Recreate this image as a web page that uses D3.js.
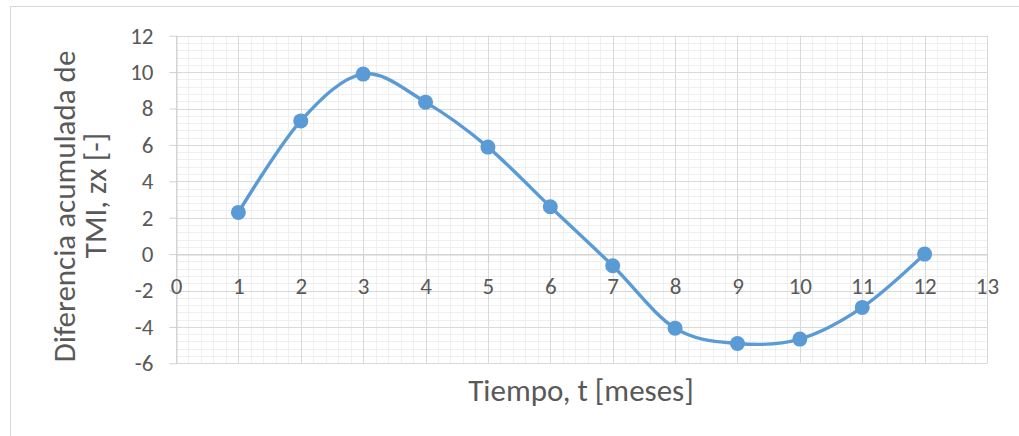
<!DOCTYPE html>
<html>
<head>
<meta charset="utf-8">
<script src="https://cdn.jsdelivr.net/npm/d3@7"></script>
<style>
  body { margin: 0; background: #fff; }
  svg text { font-family: Carlito, Lato, "Liberation Sans", sans-serif; }
</style>
</head>
<body>
<svg id="chart" width="1019" height="436"></svg>
<script>
// months and accumulated TMI difference
const months = [1, 2, 3, 4, 5, 6, 7, 8, 9, 10, 11, 12];
const zx = [2.29, 7.32, 9.89, 8.35, 5.88, 2.6, -0.64, -4.07, -4.91, -4.67, -2.93, 0.0];

const xTicks = [0, 1, 2, 3, 4, 5, 6, 7, 8, 9, 10, 11, 12, 13];
const yTicks = [-6, -4, -2, 0, 2, 4, 6, 8, 10, 12];

const xTitle = "Tiempo, t [meses]";
const yTitle = ["Diferencia acumulada de", "TMI, zx [-]"];

const svg = d3.select("#chart");

//frame of the chart (right/bottom run off the picture)
svg.append("rect")
  .attr("x", 10.5).attr("y", 6.5)
  .attr("width", 1100).attr("height", 500)
  .attr("fill", "#fff")
  .attr("stroke", "#d9d9d9");

const x = d3.scaleLinear().domain([0, 13]).range([176, 987]);
const y = d3.scaleLinear().domain([-6, 12]).range([363.3, 35.7]);

const grid = svg.append("g");

//minor grid
grid.selectAll(".vminor")
  .data(d3.range(0, 13.0001, 0.2))
  .join("line")
  .attr("x1", d => Math.round(x(d)) + 0.5).attr("x2", d => Math.round(x(d)) + 0.5)
  .attr("y1", y(12)).attr("y2", y(-6))
  .attr("stroke", "#efefef");
grid.selectAll(".hminor")
  .data(d3.range(-6, 12.0001, 0.4))
  .join("line")
  .attr("x1", x(0)).attr("x2", x(13))
  .attr("y1", d => Math.round(y(d)) + 0.5).attr("y2", d => Math.round(y(d)) + 0.5)
  .attr("stroke", "#efefef");

//major grid
grid.selectAll(".vmajor")
  .data(xTicks)
  .join("line")
  .attr("x1", d => Math.round(x(d)) + 0.5).attr("x2", d => Math.round(x(d)) + 0.5)
  .attr("y1", y(12)).attr("y2", y(-6))
  .attr("stroke", "#d9d9d9");
grid.selectAll(".hmajor")
  .data(yTicks)
  .join("line")
  .attr("x1", x(0)).attr("x2", x(13))
  .attr("y1", d => Math.round(y(d)) + 0.5).attr("y2", d => Math.round(y(d)) + 0.5)
  .attr("stroke", "#d9d9d9");

//axes (plain hyphen for negatives, like excel)
const yAxis = svg.append("g")
  .attr("transform", `translate(${Math.round(x(0)) + 0.5},0)`)
  .call(d3.axisLeft(y).tickValues(yTicks).tickFormat(d => String(d))
    .tickSize(7).tickSizeOuter(0).tickPadding(16));
const xAxis = svg.append("g")
  .attr("transform", `translate(0,${Math.round(y(0)) + 0.5})`)
  .call(d3.axisBottom(x).tickValues(xTicks).tickFormat(d => String(d))
    .tickSize(7).tickSizeOuter(0).tickPadding(16));

[xAxis, yAxis].forEach(a => {
  a.attr("font-size", 23).attr("font-family", "Carlito, Lato, sans-serif");
  a.select(".domain").attr("stroke", "#d0d0d0");
  a.selectAll(".tick line").attr("stroke", "#d0d0d0");
  a.selectAll(".tick text")
    .attr("fill", "#595959")
    .style("font-size", "23px");
});

//the smoothed series
const line = d3.line()
  .x((d, i) => x(months[i]))
  .y(d => y(d))
  .curve(d3.curveCardinal.tension(0));

svg.append("path")
  .datum(zx)
  .attr("d", line)
  .attr("fill", "none")
  .attr("stroke", "#5b9bd5")
  .attr("stroke-width", 3.4)
  .attr("stroke-linecap", "round");

svg.selectAll(".dot")
  .data(zx)
  .join("circle")
  .attr("cx", (d, i) => x(months[i]))
  .attr("cy", d => y(d))
  .attr("r", 7.5)
  .attr("fill", "#5b9bd5");

//titles
svg.append("text")
  .attr("x", 581)
  .attr("y", 401)
  .attr("text-anchor", "middle")
  .style("font-size", "31px")
  .attr("fill", "#595959")
  .text(xTitle);

svg.append("text")
  .attr("transform", "translate(75,206.5) rotate(-90)")
  .attr("text-anchor", "middle")
  .style("font-size", "31px")
  .attr("fill", "#595959")
  .text(yTitle[0]);
svg.append("text")
  .attr("transform", "translate(106,195.5) rotate(-90)")
  .attr("text-anchor", "middle")
  .style("font-size", "31px")
  .attr("fill", "#595959")
  .text(yTitle[1]);
</script>
</body>
</html>
